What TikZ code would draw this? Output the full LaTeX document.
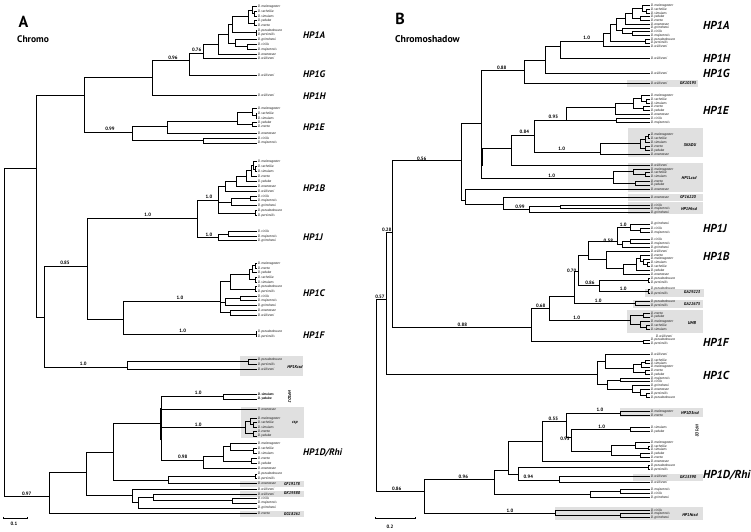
\documentclass[tikz,border=0pt]{standalone}
\usepackage{fontspec}
\setmainfont{PT Sans}

% species names
\newcommand{\Dmel}{D. melanogaster}
\newcommand{\Dsec}{D. sechellia}
\newcommand{\Dsim}{D. simulans}
\newcommand{\Dyak}{D. yakuba}
\newcommand{\Dere}{D. erecta}
\newcommand{\Dana}{D. ananassae}
\newcommand{\Dpse}{D. pseudoobscura}
\newcommand{\Dper}{D. persimilis}
\newcommand{\Dwil}{D. willistoni}
\newcommand{\Dvir}{D. virilis}
\newcommand{\Dmoj}{D. mojavensis}
\newcommand{\Dgri}{D. grimshawi}

\tikzset{
  branch/.style={line width=0.9pt},
  leaf/.style={anchor=west, inner sep=0.6pt, font=\fontsize{3.4}{3.4}\selectfont\itshape},
  boot/.style={inner sep=0pt, font=\fontsize{4.8}{4.8}\selectfont\bfseries},
  cladeA/.style={anchor=west, inner sep=0pt, font=\fontsize{9.5}{9.5}\selectfont\bfseries\itshape},
  cladeB/.style={anchor=west, inner sep=0pt, font=\fontsize{11.5}{11.5}\selectfont\bfseries\itshape},
  grp/.style={fill=black!12, draw=none},
  grplabel/.style={inner sep=0pt, font=\fontsize{4.2}{4.2}\selectfont\bfseries\itshape},
}

\begin{document}
\begin{tikzpicture}[x=1pt, y=-1pt]

  % Bounding box of the figure
  \useasboundingbox (0,0) rectangle (751,531) ;

  %%%%%%%%%%%%%%%%%%%%%%%%%%%%%%%%% Grey boxes %%%%%%%%%%%%%%%%%%%%%%%%%%%%%%%%%%%%
  \fill[grp] (240,356) rectangle (303.3,376) ;
  \fill[grp] (241,406.7) rectangle (304,438) ;
  \fill[grp] (240,481.3) rectangle (304,486.7) ;
  \fill[grp] (240,490.5) rectangle (304,496.5) ;
  \fill[grp] (240,510.7) rectangle (304,516.7) ;

  \fill[grp] (626.7,80) rectangle (698.3,86.7) ;
  \fill[grp] (628.3,128.3) rectangle (703,157.3) ;
  \fill[grp] (628.3,163.3) rectangle (703,191.7) ;
  \fill[grp] (628.3,194.3) rectangle (703,200.5) ;
  \fill[grp] (628.3,201.7) rectangle (703,214.3) ;
  \fill[grp] (645,288.5) rectangle (704,296.5) ;
  \fill[grp] (633.3,300) rectangle (703.3,307.7) ;
  \fill[grp] (626.7,310) rectangle (703.3,332.7) ;
  \fill[grp] (620,408.3) rectangle (703.3,417.3) ;
  \fill[grp] (633.3,474) rectangle (703.3,480.7) ;
  \fill[grp] (555,507.3) rectangle (703.3,520) ;

  %%%%%%%%%%%%%%%%%%%%%%%%%%%%%%%%% Panel A : Chromo %%%%%%%%%%%%%%%%%%%%%%%%%%%%%%%%%%%%
  \draw (23.5,21.5) node[font=\fontsize{16}{16}\selectfont\bfseries] (letA) {A} ;
  \draw (17,39.5) node[anchor=west, inner sep=0pt, font=\fontsize{9.5}{9.5}\selectfont\bfseries] (nameA) {Chromo} ;

  % Leaves
  \foreach \n/\y/\txt in {
    a1/6.5/\Dmel, a2/11.25/\Dsec, a3/16/\Dsim, a4/20.75/\Dyak, a5/25.5/\Dere, a6/30.25/\Dpse,
    a7/35/\Dper, a8/39.75/\Dgri, a9/44.5/\Dvir, a10/49.25/\Dmoj, a11/54/\Dana, a12/58.75/\Dwil,
    a13/75/\Dwil, a14/95/\Dwil,
    a15/108.3/\Dmel, a16/113.3/\Dsec, a17/118/\Dsim, a18/122.7/\Dyak, a19/126.7/\Dere,
    a20/133.3/\Dana, a21/138.3/\Dvir, a22/143/\Dmoj,
    a23/161.7/\Dmel, a24/166.6/\Dsec, a25/171.5/\Dsim, a26/176.4/\Dere, a27/181.3/\Dyak,
    a28/186.2/\Dana, a29/191.1/\Dwil, a30/196/\Dvir, a31/200.9/\Dmoj, a32/205.8/\Dgri,
    a33/210.7/\Dpse, a34/215.6/\Dper,
    a35/231.7/\Dvir, a36/236.3/\Dmoj, a37/240.7/\Dgri,
    a38/263.3/\Dmel, a39/268/\Dere, a40/272.7/\Dyak, a41/277.4/\Dsec, a42/282.1/\Dsim,
    a43/286.8/\Dpse, a44/291.5/\Dper, a45/296.2/\Dvir, a46/300.9/\Dmoj, a47/305.6/\Dgri,
    a48/310.3/\Dana, a49/315/\Dwil,
    a50/331.7/\Dpse, a51/336.3/\Dper,
    a52/359.3/\Dpse, a53/364.3/\Dper, a54/369.3/\Dwil,
    a57/409.3/\Dana,
    a58/418.3/\Dmel, a59/422.6/\Dsec, a60/427/\Dsim, a61/431.6/\Dere, a62/436/\Dyak,
    a63/443.3/\Dmel, a64/448.3/\Dsec, a65/453.3/\Dsim, a66/458.5/\Dere, a67/463.4/\Dyak,
    a68/468.3/\Dana,
    a69/474/\Dpse, a70/478.7/\Dper, a71/483.7/\Dana,
    a72/489/\Dwil, a73/494/\Dwil, a74/498.5/\Dvir, a75/503/\Dmoj, a76/508/\Dgri, a77/513.3/\Dere} {
    \draw (257,\y) coordinate (\n) node[leaf] {\txt} ;
  }
  \draw (257,394) coordinate (a55) node[leaf, font=\fontsize{3.4}{3.4}\selectfont\bfseries\itshape] {\Dsim} ;
  \draw (257,399) coordinate (a56) node[leaf, font=\fontsize{3.4}{3.4}\selectfont\bfseries\itshape] {\Dyak} ;

  % Inner nodes
  \foreach \n/\x/\y in {
    Aa1/254/13.6, Aa2/252/10, Aa3/254/23.1, Aa4/248/16.5, Aa5/256/32.6, Aa6/232/24,
    Aa7/247/46.9, Aa8/235/43.3, Aa9/228/34, Aa10/218/44, Aa11/203/53, Aa12/189/60,
    Aa13/152/77, Aa14/84/95, Aa15/36/168.3,
    Ae1/256/115.7, Ae2/252/112, Ae3/252/124.7, Ae4/237/121.7, Ae5/167/126, Ae6/203/140.7,
    Ae7/132/132,
    Ab1/255/169, Ab2/253/165, Ab3/251.7/170.7, Ab4/246.7/176, Ab5/236.7/181, Ab6/225/186,
    Ab7/250/198.5, Ab8/231.7/202, Ab9/255/213.2, Ab10/218.3/200, Ab11/197.7/218.3, Ab12/87.3/266,
    Aj1/228.3/234, Aj2/218.3/237.5,
    Ac1/255/265.7, Ac2/252/269, Ac3/255/279.8, Ac4/249/274, Ac5/255/289.2, Ac6/230.7/281,
    Ac7/240/298.6, Ac8/225/302, Ac9/230/312.7, Ac10/220/301.7, Ac11/123.3/319.3,
    Af1/256/334,
    Ak1/248.3/361.8, Ak2/127.7/367.7, Ak3/44/317.3,
    Ad1/223.3/396.5, Ap1/253.3/424.8, Ap2/250/421.5, Ap3/253.3/433.8, Ap4/245/427.7,
    Ar1/253.3/450.8, Ar2/230/446, Ar3/251/461, Ar4/223.3/456, Ar5/203.3/460,
    Ad2/161/423.3, Ag1/255/476.3, Ag2/168.3/480, Ad3/113.3/452,
    Al1/232.7/500.8, Al2/153.3/497.4, Al3/138.3/502.7, Al4/132.3/495.8,
    Ad4/86/472.7, Ad5/49.3/496.7, Aroot/4/330} {
    \draw (\x,\y) coordinate (\n) ;
  }

  % Branches
  \foreach \p/\cs in {
    Aa1/{a2,a3}, Aa2/{a1,Aa1}, Aa3/{a4,a5}, Aa4/{Aa2,Aa3}, Aa5/{a6,a7}, Aa6/{Aa4,Aa5},
    Aa7/{a9,a10}, Aa8/{a8,Aa7}, Aa9/{Aa6,Aa8}, Aa10/{Aa9,a11}, Aa11/{Aa10,a12},
    Aa12/{Aa11,a13}, Aa13/{Aa12,a14}, Aa14/{Aa13,Ae7}, Aa15/{Aa14,Ak3},
    Ae1/{a16,a17}, Ae2/{a15,Ae1}, Ae3/{a18,a19}, Ae4/{Ae2,Ae3}, Ae5/{Ae4,a20},
    Ae6/{a21,a22}, Ae7/{Ae5,Ae6},
    Ab1/{a24,a25}, Ab2/{a23,Ab1}, Ab3/{Ab2,a26}, Ab4/{Ab3,a27}, Ab5/{Ab4,a28},
    Ab6/{Ab5,a29}, Ab7/{a30,a31}, Ab8/{Ab7,a32}, Ab9/{a33,a34}, Ab10/{Ab6,Ab8,Ab9},
    Aj1/{a35,a36}, Aj2/{Aj1,a37}, Ab11/{Ab10,Aj2}, Ab12/{Ab11,Ac11},
    Ac1/{a38,a39}, Ac2/{Ac1,a40}, Ac3/{a41,a42}, Ac4/{Ac2,Ac3}, Ac5/{a43,a44},
    Ac6/{Ac4,Ac5}, Ac7/{a45,a46}, Ac8/{Ac7,a47}, Ac9/{a48,a49}, Ac10/{Ac6,Ac8,Ac9},
    Af1/{a50,a51}, Ac11/{Ac10,Af1},
    Ak1/{a52,a53}, Ak2/{Ak1,a54}, Ak3/{Ab12,Ak2},
    Ad1/{a55,a56}, Ap1/{a59,a60}, Ap2/{a58,Ap1}, Ap3/{a61,a62}, Ap4/{Ap2,Ap3},
    Ar1/{a64,a65}, Ar2/{a63,Ar1}, Ar3/{a66,a67}, Ar4/{Ar2,Ar3}, Ar5/{Ar4,a68},
    Ad2/{Ad1,a57,Ap4,Ar5}, Ag1/{a69,a70}, Ag2/{Ag1,a71}, Ad3/{Ad2,Ag2},
    Al1/{a74,a75}, Al2/{a73,Al1}, Al3/{Al2,a76}, Al4/{a72,Al3},
    Ad4/{Ad3,Al4}, Ad5/{Ad4,a77}, Aroot/{Aa15,Ad5}} {
    \foreach \c in \cs {
      \draw[branch] (\p) |- (\c) ;
    }
  }
  \draw[line width=2pt] (161,408) -- (161,440) ;

  % Support values
  \foreach \x/\y/\v [count=\i] in {
    173/57.5/0.96, 196.7/50/0.76, 110/129/0.99, 147.7/215/1.0, 209/196.7/1.0, 209/235/1.0,
    65/263/0.85, 180/298.3/1.0, 182.7/331/1.0, 83.3/364.3/1.0, 198.3/393.3/1.0,
    198.3/425/1.0, 182.7/457.3/0.98, 26.7/494/0.97} {
    \draw (\x,\y) node[boot] (supA\i) {\v} ;
  }

  % Clade names
  \foreach \n/\y/\txt in {
    hpaA/35/HP1A, hpgA/74/HP1G, hphA/96/HP1H, hpeA/127/HP1E, hpbA/188.3/HP1B,
    hpjA/237.3/HP1J, hpcA/293.5/HP1C, hpfA/335/HP1F} {
    \draw (303,\y) node[cladeA] (\n) {\txt} ;
  }
  \draw (303,453) node[cladeA] (hpdA) {HP1D/Rhi} ;

  % Grey box names
  \foreach \n/\x/\y/\txt in {
    kcsdA/295/366.7/HP1Kcsd, cspA/295/422.7/csp, gfA/292/484/GF19178,
    gkA/292/493.5/GK19580, ggA/292/513.8/GG18261} {
    \draw (\x,\y) node[grplabel] (\n) {\txt} ;
  }
  \draw (289.5,396.5) node[grplabel, rotate=-90] (dtwoA) {HP1D2} ;

  % Scale bar
  \draw[branch] (3.3,516.8) -- (3.3,518.3) -- (27.3,518.3) -- (27.3,516.8) ;
  \draw (14,523.5) node[boot] (scaleA) {0.1} ;

  %%%%%%%%%%%%%%%%%%%%%%%%%%%%%%%%% Panel B : Chromoshadow %%%%%%%%%%%%%%%%%%%%%%%%%%%%%%%%%%%%
  \draw (400,19) node[font=\fontsize{16}{16}\selectfont\bfseries] (letB) {B} ;
  \draw (395,39) node[anchor=west, inner sep=0pt, font=\fontsize{9.8}{9.8}\selectfont\bfseries] (nameB) {Chromoshadow} ;

  % Leaves
  \foreach \n/\y/\txt in {
    b1/5.5/\Dmel, b2/9.25/\Dsec, b3/13/\Dsim, b4/16.75/\Dyak, b5/20.5/\Dere, b6/24.25/\Dana,
    b7/28/\Dgri, b8/31.75/\Dvir, b9/35.5/\Dmoj, b10/39.25/\Dpse, b11/43/\Dper, b12/46.75/\Dwil,
    b13/58.3/\Dwil, b14/73.3/\Dwil, b15/83.3/\Dwil,
    b16/95.7/\Dmel, b17/99.4/\Dsec, b18/103/\Dsim, b19/106.6/\Dere, b20/110.2/\Dyak,
    b21/114.3/\Dana, b22/118.7/\Dvir, b23/122.7/\Dmoj,
    b24/134.3/\Dmel, b25/138/\Dsec, b26/142/\Dsim, b27/146/\Dere, b28/150.3/\Dyak, b29/154.2/\Dana,
    b30/165.3/\Dwil, b31/169.3/\Dmel, b32/172.8/\Dsec, b33/176.3/\Dsim, b34/181.3/\Dere,
    b35/185/\Dyak, b36/189.7/\Dana, b37/197.7/\Dana,
    b38/205/\Dvir, b39/208.7/\Dmoj, b40/212.3/\Dgri,
    b41/224/\Dgri, b42/228.3/\Dvir, b43/232.3/\Dmoj,
    b44/239.3/\Dvir, b45/243.3/\Dmoj, b46/247.3/\Dgri, b47/251/\Dwil, b48/255/\Dere,
    b49/259/\Dmel, b50/262.7/\Dsim, b51/266.7/\Dsec, b52/270.3/\Dyak, b53/274.3/\Dana,
    b54/278.3/\Dpse, b55/282.3/\Dper, b56/289/\Dpse, b57/293.3/\Dper,
    b58/301.7/\Dpse, b59/305.7/\Dper,
    b60/313/\Dere, b61/317/\Dyak, b62/321.3/\Dmel, b63/325.3/\Dsec, b64/329.3/\Dsim,
    b65/340/\Dpse, b66/343.3/\Dper,
    b67/354/\Dwil, b68/360.3/\Dsec, b69/363.6/\Dsim, b70/367/\Dmel, b71/370.8/\Dere,
    b72/374.6/\Dyak, b73/378.3/\Dmoj, b74/381.8/\Dvir, b75/385.7/\Dgri, b76/389.3/\Dana,
    b77/393.3/\Dper, b78/397.3/\Dpse,
    b79/411.7/\Dmel, b80/415.7/\Dere, b81/427.3/\Dsim, b82/431.7/\Dyak,
    b83/442.7/\Dmel, b84/446.3/\Dsec, b85/449.7/\Dsim, b86/453.8/\Dyak, b87/457.5/\Dere,
    b88/461.8/\Dana, b89/465.7/\Dpse, b90/469.7/\Dper, b91/476.7/\Dwil, b92/482.7/\Dwil,
    b93/489.3/\Dmoj, b94/493.3/\Dvir, b95/497.7/\Dgri,
    b96/510/\Dvir, b97/513.3/\Dmoj, b98/517.3/\Dgri} {
    \draw (650,\y) coordinate (\n) node[leaf] {\txt} ;
  }
  \draw (655,336) node[leaf] (wilF) {\Dwil} ;

  % Inner nodes
  \foreach \n/\x/\y in {
    BA1/646/11.1, BA2/642/8.3, BA3/640/18.6, BA4/632/13.5, BA5/625/18.9, BA7/645/41.1,
    BA8/632/33.6, BA9/622/30.8, BA10/616/24.9, BA11/610/33, BA12/603/41.7,
    Bh1/560/46.7, Bh2/545/60, Bh3/524/70.7, Bh4/481.7/123.3, Bh5/461.7/160.7,
    Bh6/392.3/232.7, Bh7/386.7/299.3,
    Be1/646/101.2, Be2/641/98.5, Be3/643/108.4, Be4/633/103.5, Be5/615/107.3,
    Be6/616/120.7, Be7/566.7/120,
    Bs1/648/136.2, Bs2/645/139, Bs3/645/148.2, Bs4/640/143.5, Bs5/600/152.3,
    Bs6/534/135, Bs7/511.7/148.3,
    Bl1/645/174.5, Bl3/633.3/171.9, Bl4/635/183.2, Bl5/613.3/178.3,
    Bm1/560/206.9, Bm2/529.3/209.5, Bm3/503.3/204, Bm4/465/200,
    Bj1/640/230.3, Bj2/630/227.3,
    Bb1/630/241.3, Bb2/622/244.3, Bb3/617.7/241, Bb4/647/264.7, Bb5/643/261.8,
    Bb6/640/258.4, Bb7/636/264.3, Bb8/623.3/268.3, Bb9/606/259, Bb10/588.3/255,
    Bg1/648.3/280.3, Bg2/648.3/291.2, Bg3/599/285.7, Bb11/578.3/271.7,
    Bg4/635/303.7, Bb12/574.3/296,
    Bu1/643.3/315, Bu2/646/327.3, Bu3/640/324.3, Bu4/630/320, Bb13/549.3/308.3,
    Bf1/643.3/341.7, Bb14/531.7/327.3,
    Bc1/645/362, Bc2/641/364.5, Bc3/645/372.7, Bc4/633.3/368, Bc5/605/361.7,
    Bc6/620/380, Bc7/646/395.3, Bc8/640/392.3, Bc9/632.7/389, Bc10/607.7/384.5,
    Bc11/597.3/374.3,
    Bd1/620/413.7, Bd2/630/429.5, Br1/648/448, Br2/635/445.3, Br3/640/455.7,
    Br4/611.7/451.7, Bd3/571.7/437, Bd4/566/421.7, Bd5/542.7/441.7,
    Bk1/648/467.7, Bk2/559.3/480, Bk3/518.3/474, Bd6/508.3/470,
    Bv1/620/491.3, Bv2/590/494.5, Bd7/494.3/479,
    Bn2/620/515.3, Bn1/555/513, Bd8/424.3/491.7, Broot/376/400} {
    \draw (\x,\y) coordinate (\n) ;
  }

  % Branches
  \foreach \p/\cs in {
    BA1/{b2,b3}, BA2/{b1,BA1}, BA3/{b4,b5}, BA4/{BA2,BA3}, BA5/{BA4,b6}, BA7/{b10,b11},
    BA8/{b8,b9}, BA9/{b7,BA8}, BA10/{BA5,BA9}, BA11/{BA10,BA7}, BA12/{BA11,b12},
    Bh1/{BA12,b13}, Bh2/{Bh1,b14}, Bh3/{Bh2,b15},
    Be1/{b17,b18}, Be2/{b16,Be1}, Be3/{b19,b20}, Be4/{Be2,Be3}, Be5/{Be4,b21},
    Be6/{b22,b23}, Be7/{Be5,Be6},
    Bs1/{b24,b25}, Bs2/{Bs1,b26}, Bs3/{b27,b28}, Bs4/{Bs2,Bs3}, Bs5/{Bs4,b29},
    Bs6/{Be7,Bs5}, Bs7/{Bs6,b30},
    Bl1/{b32,b33}, Bl3/{b31,Bl1}, Bl4/{b34,b35}, Bl5/{Bl3,Bl4},
    Bh4/{Bh3,Bs7,Bl5},
    Bm1/{b38,b39}, Bm2/{Bm1,b40}, Bm3/{b37,Bm2}, Bm4/{b36,Bm3}, Bh5/{Bh4,Bm4},
    Bj1/{b42,b43}, Bj2/{b41,Bj1}, Bb1/{b44,b45}, Bb2/{Bb1,b46}, Bb3/{Bj2,Bb2},
    Bb4/{b50,b51}, Bb5/{b49,Bb4}, Bb6/{b48,Bb5}, Bb7/{Bb6,b52}, Bb8/{Bb7,b53},
    Bb9/{b47,Bb8}, Bb10/{Bb3,Bb9},
    Bg1/{b54,b55}, Bg2/{b56,b57}, Bg3/{Bg1,Bg2}, Bb11/{Bb10,Bg3},
    Bg4/{b58,b59}, Bb12/{Bb11,Bg4},
    Bu1/{b60,b61}, Bu2/{b63,b64}, Bu3/{b62,Bu2}, Bu4/{Bu1,Bu3}, Bb13/{Bb12,Bu4},
    Bf1/{b65,b66}, Bb14/{Bb13,Bf1}, Bh6/{Bh5,Bb14},
    Bc1/{b68,b69}, Bc2/{Bc1,b70}, Bc3/{b71,b72}, Bc4/{Bc2,Bc3}, Bc5/{b67,Bc4},
    Bc6/{b73,b74}, Bc7/{b77,b78}, Bc8/{b76,Bc7}, Bc9/{b75,Bc8}, Bc10/{Bc6,Bc9},
    Bc11/{Bc5,Bc10}, Bh7/{Bh6,Bc11},
    Bd1/{b79,b80}, Bd2/{b81,b82}, Br1/{b84,b85}, Br2/{b83,Br1}, Br3/{b86,b87},
    Br4/{Br2,Br3}, Bd3/{Bd2,Br4}, Bd4/{Bd1,Bd3}, Bd5/{Bd4,b88},
    Bk1/{b89,b90}, Bk2/{b91,b92}, Bk3/{Bk1,Bk2}, Bd6/{Bd5,Bk3},
    Bv1/{b93,b94}, Bv2/{Bv1,b95}, Bd7/{Bd6,Bv2},
    Bn2/{b97,b98}, Bn1/{b96,Bn2}, Bd8/{Bd7,Bn1}, Broot/{Bh7,Bd8}} {
    \foreach \c in \cs {
      \draw[branch] (\p) |- (\c) ;
    }
  }
  \draw[line width=2pt] (481.7,148.3) -- (481.7,166) ;

  % Support values
  \foreach \x/\y/\v [count=\i] in {
    586.7/37.7/1.0, 501.7/67.7/0.88, 553.3/116.7/0.95, 524.3/132.3/0.84, 561.7/149.3/1.0,
    421.7/158.5/0.56, 551.7/175.5/1.0, 520/207/0.99, 623.3/224.5/1.0, 608.3/241.2/0.58,
    386.7/229.8/0.28, 571.7/270.5/0.70, 590/283.3/0.86, 623.3/288.5/1.0, 598.3/300.8/1.0,
    540.7/305.8/0.68, 380/297.2/0.57, 576.7/317.8/1.0, 462.3/324.5/0.88,
    553.3/419/0.55, 600/409.5/1.0, 601.7/426.5/1.0, 565/439/0.95, 463.3/476.5/0.96,
    528.3/477.3/0.94, 396.7/489/0.86, 510/510.5/1.0} {
    \draw (\x,\y) node[boot] (supB\i) {\v} ;
  }

  % Clade names
  \foreach \n/\y/\txt in {
    hpaB/25/HP1A, hphB/58.3/HP1H, hpgB/73.3/HP1G, hpeB/110/HP1E, hpjB/228.3/HP1J,
    hpbB/256/HP1B, hpfB/342.7/HP1F, hpcB/375/HP1C} {
    \draw (703,\y) node[cladeB] (\n) {\txt} ;
  }
  \draw (703,475) node[cladeB] (hpdB) {HP1D/Rhi} ;

  % Grey box names
  \foreach \n/\x/\y/\txt in {
    gkB/688/83.3/GK10195, skaduB/690/145.5/SKADU, lcsdB/689/178.3/HP1Lcsd,
    gfB/688/197.5/GF16220, mcsdB/689/209/HP1Mcsd, gaoneB/692/292.3/GA29223,
    gatwoB/692/304/GA22675, umbB/692/323/UMB, dthreeB/690/413/HP1D3csd,
    gksB/688/477.5/GK15590, ncsdB/690/515/HP1Ncsd} {
    \draw (\x,\y) node[grplabel] (\n) {\txt} ;
  }
  \draw (697,431) node[grplabel, rotate=-90] (dtwoB) {HP1D2} ;

  % Scale bar
  \draw[branch] (375,516.8) -- (375,518.3) -- (415,518.3) -- (415,516.8) ;
  \draw (390,526.5) node[boot] (scaleB) {0.2} ;

\end{tikzpicture}
\end{document}
